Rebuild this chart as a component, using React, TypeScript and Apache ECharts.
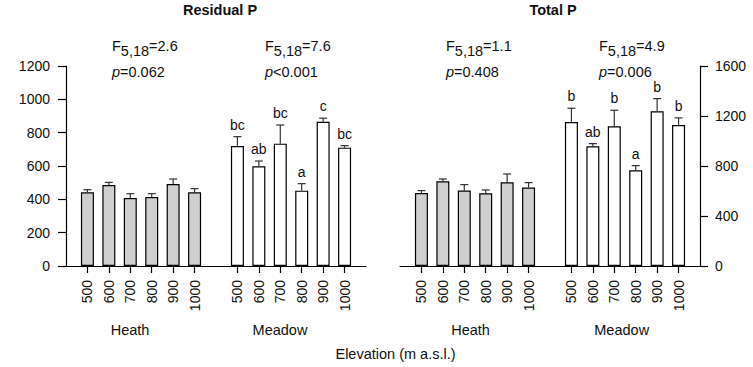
import React, { useEffect, useRef } from "react";
import * as echarts from "echarts";

// ---- Data ----
const categories = ["", "500", "600", "700", "800", "900", "1000", "", "500", "600", "700", "800", "900", "1000", ""];
const habitats = ["Heath", "Meadow"];

const residualHeath = [442, 486, 408, 414, 492, 442];
const residualHeathErr = [16, 16, 26, 20, 30, 22];
const residualMeadow = [720, 598, 734, 452, 865, 710];
const residualMeadowErr = [56, 32, 112, 42, 22, 12];
const residualLetters = ["bc", "ab", "bc", "a", "c", "bc"];
const residualF = ["2.6", "7.6"];
const residualP = ["=0.062", "<0.001"];

const totalHeath = [584, 677, 603, 581, 669, 627];
const totalHeathErr = [19, 19, 48, 27, 67, 40];
const totalMeadow = [1152, 958, 1118, 765, 1238, 1127];
const totalMeadowErr = [110, 21, 128, 38, 101, 58];
const totalLetters = ["b", "ab", "b", "a", "b", "b"];
const totalF = ["1.1", "4.9"];
const totalP = ["=0.408", "=0.006"];

const FONT = '"Liberation Sans", Arial, Helvetica, sans-serif';
const TXT = "#111";
const HEATH_FILL = "#cfcfcf";
const MEADOW_FILL = "#ffffff";
const FS = 14.5;

function buildBarData(heath: number[], meadow: number[]) {
  const out: any[] = categories.map(() => "-");
  heath.forEach((v, i) => {
    out[i + 1] = { value: v, itemStyle: { color: HEATH_FILL } };
  });
  meadow.forEach((v, i) => {
    out[i + 8] = { value: v, itemStyle: { color: MEADOW_FILL } };
  });
  return out;
}

function buildErrData(heath: number[], heathErr: number[], meadow: number[], meadowErr: number[], letters: string[]) {
  const data: number[][] = [];
  const labs: string[] = [];
  heath.forEach((v, i) => {
    data.push([i + 1, v, heathErr[i]]);
    labs.push("");
  });
  meadow.forEach((v, i) => {
    data.push([i + 8, v, meadowErr[i]]);
    labs.push(letters[i]);
  });
  return { data, labs };
}

function errSeries(idx: number, heath: number[], heathErr: number[], meadow: number[], meadowErr: number[], letters: string[]) {
  const { data, labs } = buildErrData(heath, heathErr, meadow, meadowErr, letters);
  return {
    type: "custom",
    xAxisIndex: idx,
    yAxisIndex: idx,
    data,
    z: 5,
    clip: false,
    renderItem: (params: any, api: any) => {
      const x = api.value(0);
      const v = api.value(1);
      const e = api.value(2);
      const p0 = api.coord([x, v]);
      const p1 = api.coord([x, v + e]);
      const children: any[] = [
        {
          type: "line",
          shape: { x1: p0[0], y1: p0[1], x2: p1[0], y2: p1[1] },
          style: { stroke: "#333", lineWidth: 1.2 },
        },
        {
          type: "line",
          shape: { x1: p1[0] - 4, y1: p1[1], x2: p1[0] + 4, y2: p1[1] },
          style: { stroke: "#333", lineWidth: 1.2 },
        },
      ];
      const lab = labs[params.dataIndex];
      if (lab) {
        children.push({
          type: "text",
          x: p1[0],
          y: p1[1] - 5,
          style: {
            text: lab,
            align: "center",
            verticalAlign: "bottom",
            textAlign: "center",
            textVerticalAlign: "bottom",
            fontSize: 14,
            fontFamily: FONT,
            fill: TXT,
          },
        });
      }
      return { type: "group", children };
    },
  };
}

function txt(x: number, y: number, text: string, align: string, italic = false, size = FS, bold = false) {
  return {
    type: "text",
    x,
    y,
    style: {
      text,
      align,
      verticalAlign: "middle",
      textAlign: align,
      textVerticalAlign: "middle",
      fontSize: size,
      fontStyle: italic ? "italic" : "normal",
      fontWeight: bold ? "bold" : "normal",
      fontFamily: FONT,
      fill: TXT,
    },
  };
}

// width estimates (Arial metrics) used only to place the pieces of the stat text side by side
const W_F = 0.611 * FS;
const W_SUB = (0.556 * 3 + 0.278) * FS;
const W_P = 0.556 * FS;

function statText(x: number, F: string, p: string) {
  return [
    txt(x, 46, "F", "left"),
    txt(x + W_F, 51, "5,18", "left"),
    txt(x + W_F + W_SUB, 46, "=" + F, "left"),
    txt(x, 72, "p", "left", true),
    txt(x + W_P, 72, p, "left"),
  ];
}

function xAxisCfg(gridIndex: number) {
  return {
    type: "category",
    gridIndex,
    data: categories,
    boundaryGap: false,
    axisLine: { show: true, lineStyle: { color: "#000", width: 1.2 } },
    axisTick: {
      show: true,
      length: 7,
      interval: (i: number) => i !== 0 && i !== 7 && i !== 14,
      lineStyle: { color: "#000", width: 1.2 },
    },
    axisLabel: {
      interval: 0,
      rotate: 90,
      margin: 14,
      fontSize: 14,
      fontFamily: FONT,
      color: TXT,
    },
    splitLine: { show: false },
  };
}

function yAxisCfg(gridIndex: number, max: number, interval: number, position: string, margin: number) {
  return {
    type: "value",
    gridIndex,
    min: 0,
    max,
    interval,
    position,
    axisLine: { show: true, lineStyle: { color: "#000", width: 1.2 } },
    axisTick: { show: true, length: 8, lineStyle: { color: "#000", width: 1.2 } },
    axisLabel: { fontSize: 14, fontFamily: FONT, color: TXT, margin, formatter: (v: number) => String(v) },
    splitLine: { show: false },
  };
}

export default function App() {
  const ref = useRef<HTMLDivElement>(null);
  useEffect(() => {
    if (!ref.current) return;
    const chart = echarts.init(ref.current, undefined, { renderer: "svg" });
    const barCommon = {
      type: "bar",
      barWidth: 13,
      itemStyle: { borderColor: "#000", borderWidth: 1.2 },
      z: 2,
    };
    chart.setOption({
      animation: false,
      backgroundColor: "#ffffff",
      textStyle: { fontFamily: FONT },
      grid: [
        { left: 66, top: 66, width: 300, height: 200 },
        { left: 400, top: 66, width: 300, height: 200 },
      ],
      xAxis: [xAxisCfg(0), xAxisCfg(1)],
      yAxis: [yAxisCfg(0, 1200, 200, "left", 16), yAxisCfg(1, 1600, 400, "right", 15)],
      series: [
        { ...barCommon, xAxisIndex: 0, yAxisIndex: 0, data: buildBarData(residualHeath, residualMeadow) },
        { ...barCommon, xAxisIndex: 1, yAxisIndex: 1, data: buildBarData(totalHeath, totalMeadow) },
        errSeries(0, residualHeath, residualHeathErr, residualMeadow, residualMeadowErr, residualLetters),
        errSeries(1, totalHeath, totalHeathErr, totalMeadow, totalMeadowErr, totalLetters),
      ],
      graphic: [
        txt(220, 10, "Residual P", "center", false, FS, true),
        txt(553, 10, "Total P", "center", false, FS, true),
        ...statText(112, residualF[0], residualP[0]),
        ...statText(265, residualF[1], residualP[1]),
        ...statText(446, totalF[0], totalP[0]),
        ...statText(599, totalF[1], totalP[1]),
        txt(130, 330, habitats[0], "center"),
        txt(280, 330, habitats[1], "center"),
        txt(470.5, 330, habitats[0], "center"),
        txt(621.7, 330, habitats[1], "center"),
        txt(395.5, 354, "Elevation (m a.s.l.)", "center"),
      ],
    });
    return () => chart.dispose();
  }, []);
  return (
    <div
      ref={ref}
      style={{ position: "absolute", left: 0, top: 0, width: 753, height: 367, background: "#fff" }}
    />
  );
}
